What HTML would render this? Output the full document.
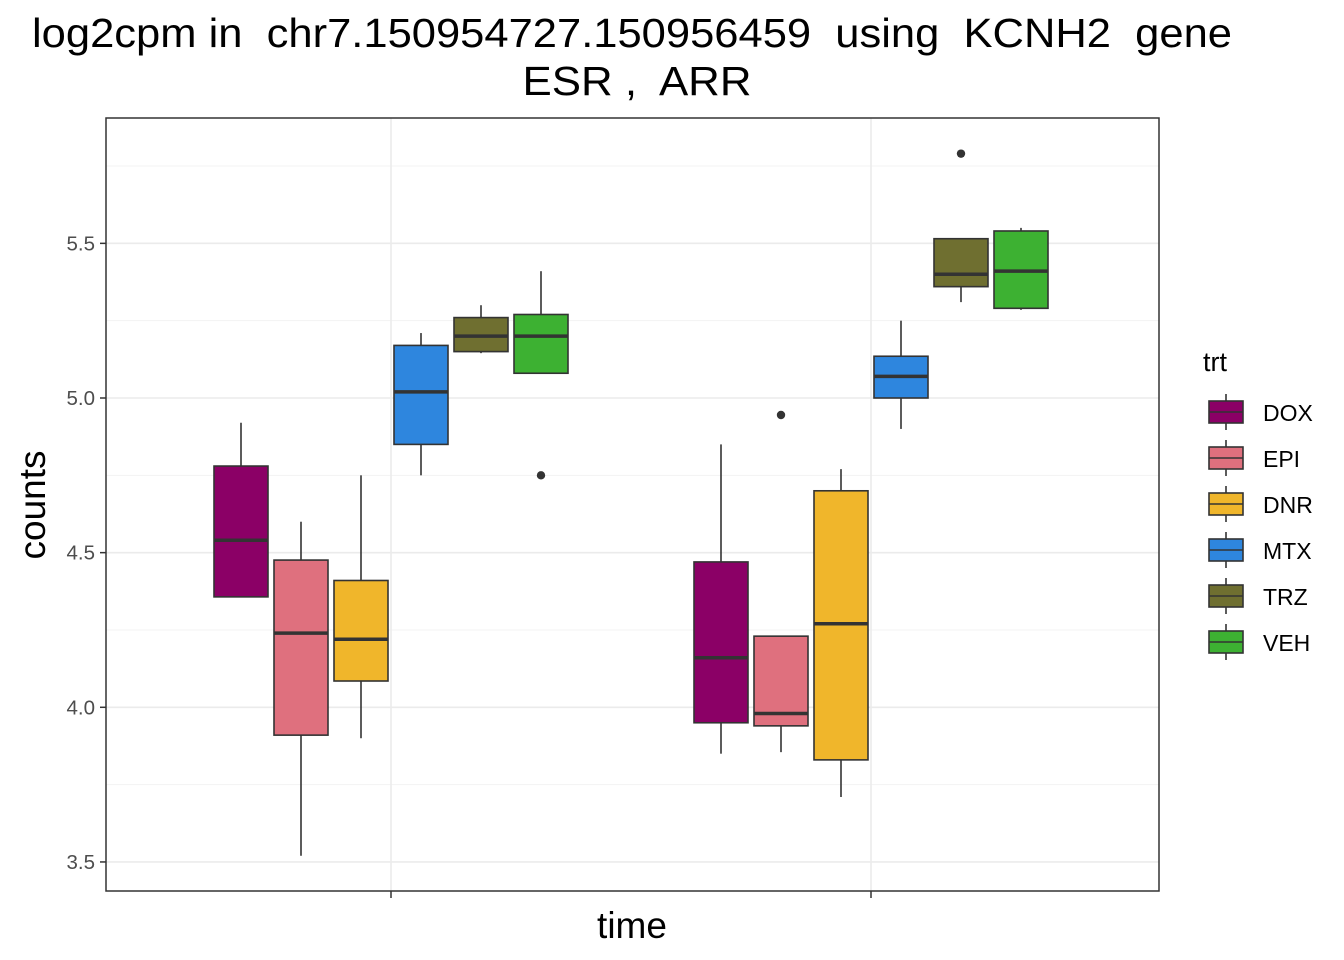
<!DOCTYPE html>
<html><head><meta charset="utf-8"><style>
body{margin:0;background:#fff;}
svg{display:block;font-family:"Liberation Sans",Arial,sans-serif;}
svg text{white-space:pre;}
</style></head><body>
<svg id="chart" width="1344" height="960" viewBox="0 0 1344 960">
<rect x="0" y="0" width="1344" height="960" fill="#fff"/>
<text x="632" y="47" font-size="41" text-anchor="middle" fill="#000" xml:space="preserve" textLength="1200" lengthAdjust="spacingAndGlyphs">log2cpm in  chr7.150954727.150956459  using  KCNH2  gene</text>
<text x="637" y="95" font-size="41" text-anchor="middle" fill="#000" xml:space="preserve" textLength="229" lengthAdjust="spacingAndGlyphs">ESR ,  ARR</text>
<g id="grid"></g>
<g id="marks"></g>
<rect x="106" y="118" width="1053" height="773" fill="none" stroke="#333" stroke-width="1.5"/>
<g id="axes"></g>
<text x="632" y="938" font-size="37" text-anchor="middle">time</text>
<text transform="translate(45,505) rotate(-90)" font-size="37" text-anchor="middle">counts</text>
<g id="legend"></g>
</svg>
<script>
const treatments=["DOX","EPI","DNR","MTX","TRZ","VEH"];
const colors=["#8B0066","#DF707E","#F0B62B","#2E86DE","#6F6F30","#3DB132"];
const groups=["ESR","ARR"];
// [low, q1, median, q3, high]
const statsG1=[[4.357,4.357,4.54,4.78,4.92],[3.52,3.91,4.24,4.476,4.60],[3.90,4.085,4.22,4.41,4.75],[4.75,4.85,5.02,5.17,5.21],[5.145,5.15,5.20,5.26,5.30],[5.08,5.08,5.20,5.27,5.41]];
const statsG2=[[3.85,3.95,4.16,4.47,4.85],[3.855,3.94,3.98,4.23,4.23],[3.71,3.83,4.27,4.70,4.77],[4.90,5.00,5.07,5.135,5.25],[5.31,5.36,5.40,5.515,5.515],[5.285,5.29,5.41,5.54,5.55]];
const outliers=[{g:0,t:5,v:4.75},{g:1,t:1,v:4.945},{g:1,t:4,v:5.79}];
const yTicks=[3.5,4.0,4.5,5.0,5.5];
const yTickLabels=["3.5","4.0","4.5","5.0","5.5"];

const NS="http://www.w3.org/2000/svg";
const y=v=>398-(v-5)*309.3;
const gx=[391,871];
const xBox=(g,t)=>gx[g]+(t-2.5)*60;
function mk(tag,attrs,parent){const e=document.createElementNS(NS,tag);for(const k in attrs)e.setAttribute(k,attrs[k]);parent.appendChild(e);return e;}
const grid=document.getElementById('grid'),marks=document.getElementById('marks'),axes=document.getElementById('axes'),legend=document.getElementById('legend');
for(let i=0;i<yTicks.length;i++){
  const l=mk('line',{x1:106,x2:1159,y1:y(yTicks[i]),y2:y(yTicks[i]),stroke:'#EBEBEB','stroke-width':1.6},grid);
  
  
  if(i<yTicks.length-1){const m=(yTicks[i]+yTicks[i+1])/2;const l2=mk('line',{x1:106,x2:1159,y1:y(m),y2:y(m),stroke:'#F3F3F3','stroke-width':1},grid);
  
  }
}
{const m=yTicks[yTicks.length-1]+0.25;const l3=mk('line',{x1:106,x2:1159,y1:y(m),y2:y(m),stroke:'#F3F3F3','stroke-width':1},grid);

}
gx.forEach(x=>{const l=mk('line',{x1:x,x2:x,y1:118,y2:891,stroke:'#EBEBEB','stroke-width':1.6},grid);

});
[statsG1,statsG2].forEach((stats,g)=>{
  stats.forEach((s,t)=>{
    const cx=xBox(g,t),w=54;
    const grp=mk('g',{},marks);
    
    
    mk('line',{x1:cx,x2:cx,y1:y(s[4]),y2:y(s[3]),stroke:'#333','stroke-width':1.6},grp);
    mk('line',{x1:cx,x2:cx,y1:y(s[1]),y2:y(s[0]),stroke:'#333','stroke-width':1.6},grp);
    mk('rect',{x:cx-w/2,y:y(s[3]),width:w,height:y(s[1])-y(s[3]),fill:colors[t],stroke:'#333','stroke-width':1.6},grp);
    mk('line',{x1:cx-w/2,x2:cx+w/2,y1:y(s[2]),y2:y(s[2]),stroke:'#333','stroke-width':3.5},grp);
  });
});
outliers.forEach(o=>{const c=mk('circle',{cx:xBox(o.g,o.t),cy:y(o.v),r:4.2,fill:'#333'},marks);

});
yTicks.forEach((v,i)=>{
  mk('line',{x1:100,x2:106,y1:y(v),y2:y(v),stroke:'#333','stroke-width':1.5},axes);
  const t=mk('text',{x:95,y:y(v)+7,'font-size':20.5,'text-anchor':'end',fill:'#4D4D4D'},axes);
  t.textContent=yTickLabels[i];
  
  
});
gx.forEach(x=>mk('line',{x1:x,x2:x,y1:891,y2:898,stroke:'#333','stroke-width':1.5},axes));
const lt=mk('text',{x:1203,y:371,'font-size':27},legend);lt.textContent='trt';


treatments.forEach((tr,i)=>{
  const cy=412+i*46;
  const g=mk('g',{},legend);
  
  
  mk('line',{x1:1226,x2:1226,y1:cy-18,y2:cy+18,stroke:'#333','stroke-width':1.6},g);
  mk('rect',{x:1209,y:cy-11,width:34,height:22,fill:colors[i],stroke:'#333','stroke-width':1.6},g);
  mk('line',{x1:1209,x2:1243,y1:cy,y2:cy,stroke:'#333','stroke-width':1.6},g);
  const t=mk('text',{x:1263,y:cy+9,'font-size':23},g);t.textContent=tr;
});
</script>
</body></html>
